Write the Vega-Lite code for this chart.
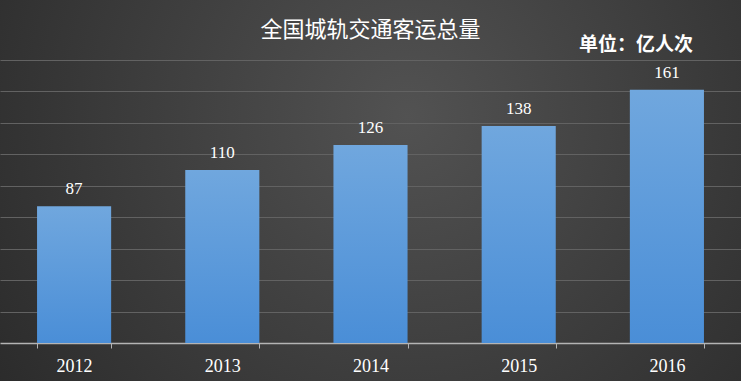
{
  "$schema": "https://vega.github.io/schema/vega-lite/v6.json",
  "width": 741,
  "height": 381,
  "autosize": "none",
  "padding": 0,
  "background": "#2e2e2e",
  "view": {
    "stroke": null,
    "fill": {
      "gradient": "radial",
      "x1": 0.55, "y1": 0.4, "r1": 0,
      "x2": 0.55, "y2": 0.4, "r2": 0.75,
      "stops": [
        {"offset": 0, "color": "#525252"},
        {"offset": 1, "color": "#262626"}
      ]
    }
  },
  "title": {
    "text": "全国城轨交通客运总量",
    "color": "#ffffff",
    "font": "Noto Sans CJK SC",
    "fontSize": 22,
    "fontWeight": "normal",
    "anchor": "middle",
    "frame": "group",
    "offset": -42
  },
  "datasets": {
    "main": [
      {"year": "2012", "value": 87},
      {"year": "2013", "value": 110},
      {"year": "2014", "value": 126},
      {"year": "2015", "value": 138},
      {"year": "2016", "value": 161}
    ],
    "unit": [
      {"year": "2016", "pos": 189.5, "unit": "单位：亿人次"}
    ]
  },
  "layer": [
    {
      "data": {"name": "main"},
      "mark": {
        "type": "bar",
        "fill": {
          "gradient": "linear",
          "x1": 0, "y1": 0, "x2": 0, "y2": 1,
          "stops": [
            {"offset": 0, "color": "#70a7de"},
            {"offset": 1, "color": "#4a8ed7"}
          ]
        }
      },
      "encoding": {
        "x": {
          "field": "year",
          "type": "nominal",
          "sort": null,
          "scale": {"paddingInner": 0.5, "paddingOuter": 0.25},
          "axis": {
            "orient": "bottom",
            "offset": -38,
            "title": null,
            "labelAngle": 0,
            "labelColor": "#ffffff",
            "labelFont": "Liberation Serif",
            "labelFontSize": 18,
            "labelPadding": 9,
            "domainColor": "#b4b4b4",
            "domainWidth": 1.5,
            "tickColor": "#b4b4b4",
            "tickSize": 5,
            "tickBand": "extent",
            "grid": false
          }
        },
        "y": {
          "field": "value",
          "type": "quantitative",
          "scale": {"domain": [-24.17, 218.16], "nice": false, "zero": false},
          "axis": {
            "title": null,
            "labels": false,
            "ticks": false,
            "domain": false,
            "grid": true,
            "values": [20, 40, 60, 80, 100, 120, 140, 160, 180],
            "gridColor": "#626262",
            "gridWidth": 1
          }
        },
        "y2": {"datum": 0}
      }
    },
    {
      "data": {"name": "main"},
      "mark": {
        "type": "text",
        "baseline": "alphabetic",
        "dy": -12,
        "color": "#ffffff",
        "font": "Liberation Serif",
        "fontSize": 17
      },
      "encoding": {
        "x": {"field": "year", "type": "nominal", "sort": null},
        "y": {"field": "value", "type": "quantitative"},
        "text": {"field": "value", "type": "quantitative"}
      }
    },
    {
      "data": {"name": "unit"},
      "mark": {
        "type": "text",
        "baseline": "middle",
        "dx": -31,
        "color": "#ffffff",
        "font": "Noto Sans CJK SC",
        "fontWeight": "bold",
        "fontSize": 19
      },
      "encoding": {
        "x": {"field": "year", "type": "nominal", "sort": null},
        "y": {"field": "pos", "type": "quantitative"},
        "text": {"field": "unit", "type": "nominal"}
      }
    }
  ]
}
